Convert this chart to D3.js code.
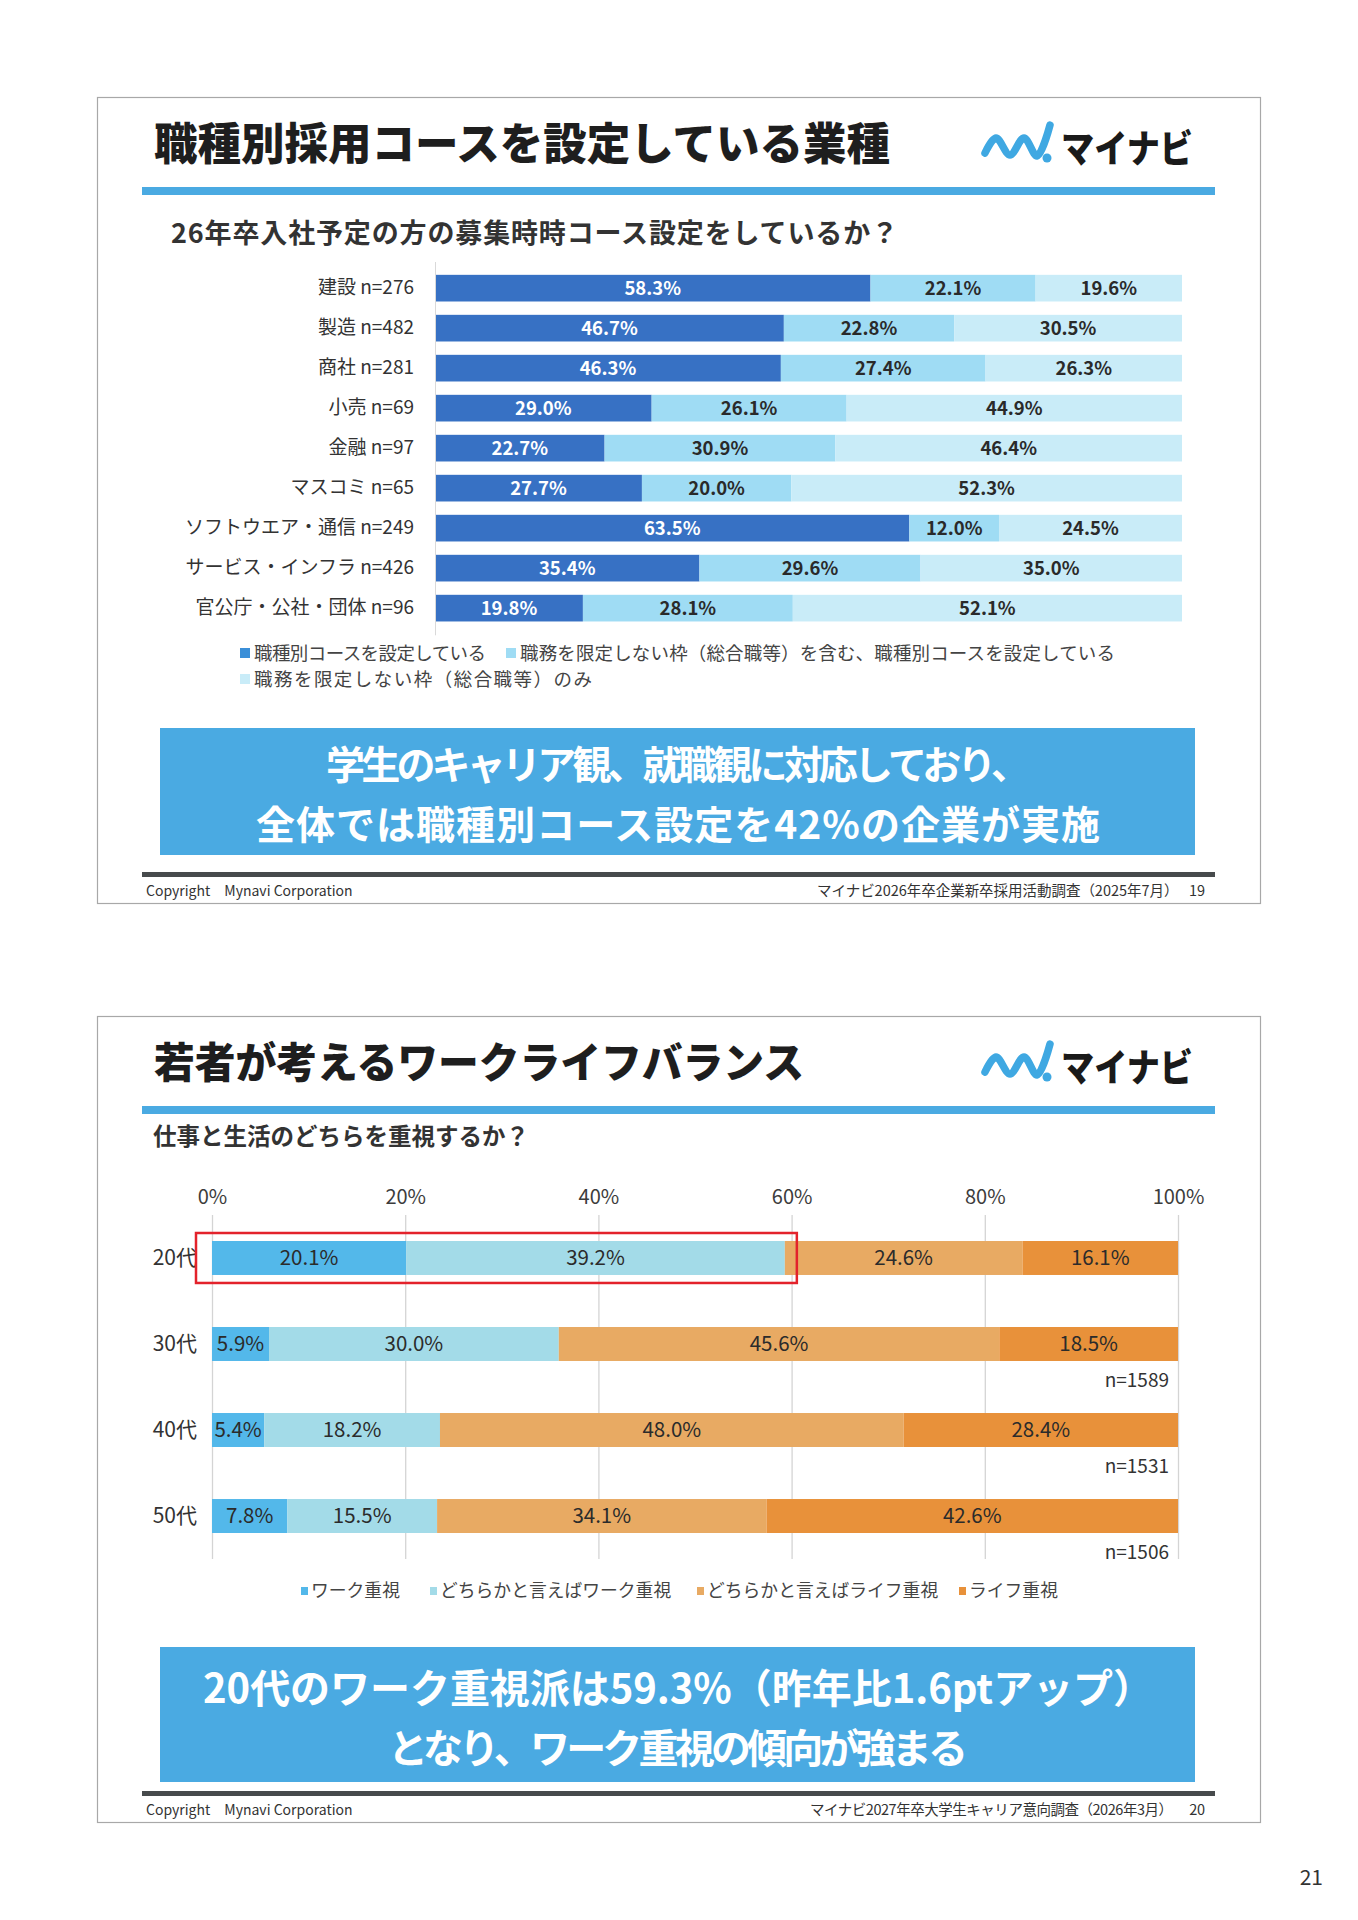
<!DOCTYPE html>
<html>
<head>
<meta charset="utf-8">
<script src="https://cdn.jsdelivr.net/npm/d3@7"></script>
<style>
  body { margin: 0; background: #fff; }
  svg { display: block; }
  text { font-family: "Noto Sans CJK JP", "Noto Sans", sans-serif; }
</style>
</head>
<body>
<svg id="page" width="1358" height="1920"></svg>
<script>
// slide 19 data
const industries = ['建設 n=276', '製造 n=482', '商社 n=281', '小売 n=69', '金融 n=97', 'マスコミ n=65', 'ソフトウエア・通信 n=249', 'サービス・インフラ n=426', '官公庁・公社・団体 n=96'];
const setCourse = [58.3, 46.7, 46.3, 29.0, 22.7, 27.7, 63.5, 35.4, 19.8];
const mixedCourse = [22.1, 22.8, 27.4, 26.1, 30.9, 20.0, 12.0, 29.6, 28.1];
const generalOnly = [19.6, 30.5, 26.3, 44.9, 46.4, 52.3, 24.5, 35.0, 52.1];
const courseSeries = ['職種別コースを設定している', '職務を限定しない枠（総合職等）を含む、職種別コースを設定している', '職務を限定しない枠（総合職等）のみ'];

// slide 20 data
const ageGroups = ['20代', '30代', '40代', '50代'];
const workFirst = [20.1, 5.9, 5.4, 7.8];
const leanWork = [39.2, 30.0, 18.2, 15.5];
const leanLife = [24.6, 45.6, 48.0, 34.1];
const lifeFirst = [16.1, 18.5, 28.4, 42.6];
const sampleSizes = ['', 'n=1589', 'n=1531', 'n=1506'];
const balanceSeries = ['ワーク重視', 'どちらかと言えばワーク重視', 'どちらかと言えばライフ重視', 'ライフ重視'];
const pctTicks = [0, 20, 40, 60, 80, 100];

const svg = d3.select('#page');
svg.append('rect').attr('width', 1358).attr('height', 1920).attr('fill', '#fff');

const BLUE = '#4aaae2';

// frame shared by both slides
function drawSlide(top, opts) {
  const g = svg.append('g');
  g.append('rect').attr('x', 97.5).attr('y', top + 0.5).attr('width', 1163).attr('height', 806)
    .attr('fill', '#fff').attr('stroke', '#a8a8a8').attr('stroke-width', 1.2);

  g.append('text').attr('x', 154).attr('y', top + 47).attr('dy', '0.36em')
    .attr('font-size', opts.titleSize).attr('font-weight', 900).attr('fill', '#1e1e1e')
    .attr('textLength', opts.titleWidth).attr('lengthAdjust', 'spacingAndGlyphs')
    .text(opts.title);

  // logo
  const wave = d3.line().curve(d3.curveCatmullRom.alpha(0.5));
  g.append('path')
    .attr('d', wave([[985, top + 56], [996, top + 41], [1010, top + 58], [1024, top + 41], [1037, top + 59], [1050, top + 28]]))
    .attr('fill', 'none').attr('stroke', '#3fa8e2').attr('stroke-width', 7.5)
    .attr('stroke-linecap', 'round').attr('stroke-linejoin', 'round');
  g.append('circle').attr('cx', 1047).attr('cy', top + 61).attr('r', 4.5).attr('fill', '#3fa8e2');
  g.append('text').attr('x', 1061).attr('y', top + 65)
    .attr('font-size', 38).attr('font-weight', 900).attr('fill', '#1a1a1a')
    .attr('textLength', 132).attr('lengthAdjust', 'spacingAndGlyphs')
    .text('マイナビ');

  g.append('rect').attr('x', 142).attr('y', top + 90).attr('width', 1073).attr('height', 8).attr('fill', BLUE);

  g.append('text').attr('x', opts.subX).attr('y', opts.subY).attr('dy', '0.36em')
    .attr('font-size', opts.subSize).attr('font-weight', 700).attr('fill', '#333')
    .attr('textLength', opts.subWidth)
    .text(opts.subtitle);

  // conclusion box
  g.append('rect').attr('x', 160).attr('y', opts.boxY).attr('width', 1035).attr('height', opts.boxH).attr('fill', BLUE);
  opts.boxLines.forEach((line, i) => {
    g.append('text').attr('x', 678).attr('y', opts.boxLineY[i]).attr('dy', '0.36em')
      .attr('text-anchor', 'middle').attr('font-size', opts.boxSize).attr('font-weight', 700)
      .attr('fill', '#fff').attr('textLength', opts.boxWidths[i]).text(line);
  });

  // footer
  g.append('rect').attr('x', 142).attr('y', top + 775).attr('width', 1073).attr('height', 5).attr('fill', '#474a4c');
  g.append('text').attr('x', 146).attr('y', top + 794).attr('dy', '0.36em')
    .attr('font-size', 14).attr('fill', '#333').text('Copyright\u3000Mynavi Corporation');
  g.append('text').attr('x', 1205).attr('y', top + 794).attr('dy', '0.36em').attr('text-anchor', 'end')
    .attr('font-size', 14.5).attr('fill', '#333').attr('textLength', opts.footerWidth).text(opts.footer);
  return g;
}

// ---------- slide 19 ----------
drawSlide(97, {
  title: '職種別採用コースを設定している業種', titleSize: 44, titleWidth: 736,
  subtitle: '26年卒入社予定の方の募集時時コース設定をしているか？', subX: 171, subY: 233, subSize: 27, subWidth: 727,
  boxY: 728, boxH: 127, boxSize: 39, boxLineY: [765, 825], boxWidths: [704, 844],
  boxLines: ['学生のキャリア観、就職観に対応しており、', '全体では職種別コース設定を42%の企業が実施'],
  footer: 'マイナビ2026年卒企業新卒採用活動調査（2025年7月）\u2002 19', footerWidth: 388
});

const courseRows = industries.map((name, i) => ({ name, s0: setCourse[i], s1: mixedCourse[i], s2: generalOnly[i] }));
const courseStack = d3.stack().keys(['s0', 's1', 's2'])(courseRows);
const courseColors = ['#3771c4', '#9fdcf4', '#c9ecf8'];
const courseText = ['#fff', '#2a2a2a', '#2a2a2a'];

const x1 = d3.scaleLinear().domain([0, 100]).range([435, 1182]);
const y1 = d3.scaleBand().domain(industries).range([261.5, 634.8]).padding(1 / 3);

const c1 = svg.append('g');
courseStack.forEach((layer, k) => {
  const lg = c1.append('g');
  lg.selectAll('rect').data(layer).join('rect')
    .attr('x', d => x1(d[0])).attr('y', d => y1(d.data.name))
    .attr('width', d => x1(d[1]) - x1(d[0])).attr('height', y1.bandwidth())
    .attr('fill', courseColors[k]);
  lg.selectAll('text').data(layer).join('text')
    .attr('x', d => x1((d[0] + d[1]) / 2)).attr('y', d => y1(d.data.name) + y1.bandwidth() / 2)
    .attr('dy', '0.36em').attr('text-anchor', 'middle')
    .attr('font-size', 18.5).attr('font-weight', 700).attr('fill', courseText[k])
    .text(d => (d[1] - d[0]).toFixed(1) + '%');
});

const yAxis1 = c1.append('g').attr('transform', `translate(${x1(0)},0)`)
  .call(d3.axisLeft(y1).tickSize(0).tickPadding(21).tickSizeOuter(0));
yAxis1.select('.domain').attr('stroke', '#d9d9d9');
yAxis1.selectAll('text').attr('font-size', 19).attr('fill', '#333')
  .style('font-family', '"Noto Sans CJK JP", sans-serif');

// legend slide 19
const leg1Pos = [[240, 653], [506, 653], [240, 679]];
const leg1Widths = [232, 595, 338];
courseSeries.forEach((name, k) => {
  const [lx, ly] = leg1Pos[k];
  c1.append('rect').attr('x', lx).attr('y', ly - 5).attr('width', 10).attr('height', 10)
    .attr('fill', k === 0 ? '#3b8fd8' : courseColors[k]);
  c1.append('text').attr('x', lx + 14).attr('y', ly).attr('dy', '0.36em')
    .attr('font-size', 18.5).attr('fill', '#444').attr('textLength', leg1Widths[k]).text(name);
});

// ---------- slide 20 ----------
drawSlide(1016, {
  title: '若者が考えるワークライフバランス', titleSize: 42, titleWidth: 650,
  subtitle: '仕事と生活のどちらを重視するか？', subX: 153, subY: 1137, subSize: 23.5, subWidth: 376,
  boxY: 1647, boxH: 135, boxSize: 40, boxLineY: [1689, 1749], boxWidths: [950, 580],
  boxLines: ['20代のワーク重視派は59.3%（昨年比1.6ptアップ）', 'となり、ワーク重視の傾向が強まる'],
  footer: 'マイナビ2027年卒大学生キャリア意向調査（2026年3月）\u2003 20', footerWidth: 395
});

const balanceRows = ageGroups.map((name, i) => ({ name, s0: workFirst[i], s1: leanWork[i], s2: leanLife[i], s3: lifeFirst[i] }));
const balanceStack = d3.stack().keys(['s0', 's1', 's2', 's3'])(balanceRows);
const balanceColors = ['#53b8ea', '#a3dbe8', '#e8aa63', '#e8913a'];

const x2 = d3.scaleLinear().domain([0, 100]).range([212, 1178]);
const y2 = d3.scaleBand().domain(ageGroups).range([1198, 1576]).paddingInner(0.605).paddingOuter(0.5);

const c2 = svg.append('g');
const xAxis2 = c2.append('g').attr('transform', 'translate(0,1215)')
  .call(d3.axisTop(x2).tickValues(pctTicks).tickFormat(d => d + '%').tickSize(-344).tickPadding(11));
xAxis2.select('.domain').remove();
xAxis2.selectAll('line').attr('stroke', '#d4d4d4').attr('stroke-width', 1.3);
xAxis2.selectAll('text').attr('font-size', 20).attr('fill', '#3c3c3c')
  .style('font-family', '"Noto Sans CJK JP", sans-serif');

balanceStack.forEach((layer, k) => {
  const lg = c2.append('g');
  lg.selectAll('rect').data(layer).join('rect')
    .attr('x', d => x2(d[0])).attr('y', d => y2(d.data.name))
    .attr('width', d => x2(d[1]) - x2(d[0])).attr('height', y2.bandwidth())
    .attr('fill', balanceColors[k]);
  lg.selectAll('text').data(layer).join('text')
    .attr('x', d => x2((d[0] + d[1]) / 2)).attr('y', d => y2(d.data.name) + y2.bandwidth() / 2)
    .attr('dy', '0.36em').attr('text-anchor', 'middle')
    .attr('font-size', 20.5).attr('fill', '#2b2b2b')
    .text(d => (d[1] - d[0]).toFixed(1) + '%');
});

const yAxis2 = c2.append('g').attr('transform', `translate(${x2(0)},0)`)
  .call(d3.axisLeft(y2).tickSize(0).tickPadding(15));
yAxis2.select('.domain').remove();
yAxis2.selectAll('text').attr('font-size', 21).attr('fill', '#333')
  .style('font-family', '"Noto Sans CJK JP", sans-serif');

// sample sizes under rows
c2.selectAll('text.n').data(ageGroups).join('text').attr('class', 'n')
  .attr('x', x2(100) - 9).attr('y', d => y2(d) + y2.bandwidth() + 19).attr('dy', '0.36em')
  .attr('text-anchor', 'end').attr('font-size', 19).attr('fill', '#333')
  .text((d, i) => sampleSizes[i]);

// highlight around 20代 work share
const first = ageGroups[0];
c2.append('rect')
  .attr('x', x2(0) - 16).attr('y', y2(first) - 8)
  .attr('width', x2(workFirst[0] + leanWork[0]) + 12 - (x2(0) - 16)).attr('height', y2.bandwidth() + 16)
  .attr('fill', 'none').attr('stroke', '#e3222b').attr('stroke-width', 2.5);

// legend slide 20
const leg2X = [301, 430, 697, 959];
balanceSeries.forEach((name, k) => {
  c2.append('rect').attr('x', leg2X[k]).attr('y', 1591 - 4).attr('width', 7).attr('height', 8).attr('fill', balanceColors[k]);
  c2.append('text').attr('x', leg2X[k] + 10).attr('y', 1591).attr('dy', '0.36em')
    .attr('font-size', 17.8).attr('fill', '#444').text(name);
});

// page number
svg.append('text').attr('x', 1323).attr('y', 1877).attr('dy', '0.36em').attr('text-anchor', 'end')
  .attr('font-size', 21).attr('fill', '#333').text('21');
</script>
</body>
</html>
